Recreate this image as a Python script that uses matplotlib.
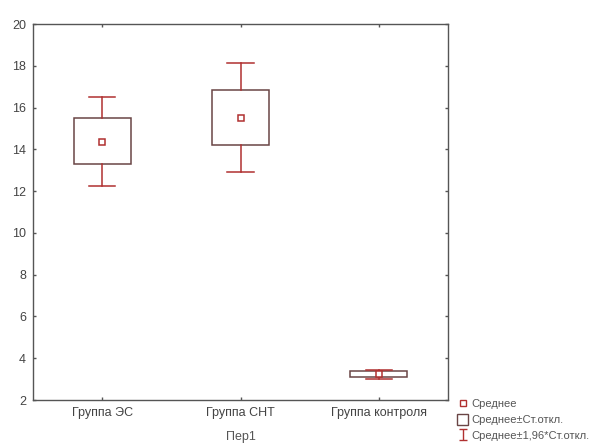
import matplotlib
matplotlib.use("Agg")
import matplotlib.pyplot as plt
from matplotlib.lines import Line2D
from matplotlib.patches import Rectangle
import numpy as np

plt.rcParams['font.family'] = ['Liberation Sans', 'DejaVu Sans']

categories = ["Группа ЭС", "Группа СНТ", "Группа контроля"]
means = [14.35, 15.50, 3.23]
sd_low = [13.30, 14.20, 3.08]
sd_high = [15.49, 16.84, 3.38]
ci_low = [12.25, 12.90, 3.03]
ci_high = [16.52, 18.12, 3.43]
yticks = [2, 4, 6, 8, 10, 12, 14, 16, 18, 20]
xlabel = "Пер1"
legend_labels = ["Среднее", "Среднее±Ст.откл.", "Среднее±1,96*Ст.откл."]

red = "#b03030"
boxc = "#6a4545"
gray = "#555555"

fig = plt.figure(figsize=(6.14, 4.47), dpi=100)
ax = fig.add_axes([0.0537, 0.1051, 0.676, 0.8412])

x = np.arange(len(categories))
bw = 0.41
cw = 0.19
for i in x:
    ax.add_patch(Rectangle((i - bw / 2, sd_low[i]), bw, sd_high[i] - sd_low[i],
                           facecolor="white", edgecolor=boxc, lw=1.1, zorder=2))
    ax.plot([i, i], [sd_high[i], ci_high[i]], color=red, lw=1.1, zorder=3)
    ax.plot([i, i], [ci_low[i], sd_low[i]], color=red, lw=1.1, zorder=3)
    ax.plot([i - cw / 2, i + cw / 2], [ci_high[i]] * 2, color=red, lw=1.1, zorder=3)
    ax.plot([i - cw / 2, i + cw / 2], [ci_low[i]] * 2, color=red, lw=1.1, zorder=3)
ax.plot(x, means, ls="none", marker="s", ms=4.5, mfc="white", mec=red, mew=1.1, zorder=4)

ax.set_xlim(-0.5, 2.5)
ax.set_ylim(2, 20)
ax.set_yticks(yticks)
ax.set_xticks(x)
ax.set_xticklabels(categories)
ax.tick_params(direction="in", length=2.5, width=1, colors=gray, labelcolor="#444444",
               labelsize=9, top=True, right=True, pad=5)
for s in ax.spines.values():
    s.set_color(gray)
    s.set_linewidth(1.0)
ax.set_xlabel(xlabel, color="#555555", fontsize=9, labelpad=9)

# legend
h_mean = Line2D([], [], ls="none", marker="s", ms=4, mfc="white", mec=red, mew=1)
h_box = Rectangle((0, 0), 1, 1, facecolor="white", edgecolor=boxc, lw=1)
eb = ax.errorbar([np.nan], [np.nan], yerr=[[np.nan]], fmt="none", ecolor=red,
                 elinewidth=1, capsize=3)
leg = fig.legend([h_mean, h_box, eb], legend_labels, loc="lower left",
                 bbox_to_anchor=(0.732, -0.005), frameon=False, fontsize=8,
                 handlelength=1.0, handleheight=1.1, handletextpad=0.3,
                 labelspacing=0.45, borderpad=0.2)
for t in leg.get_texts():
    t.set_color("#555555")

fig.savefig("out.png", dpi=100)
